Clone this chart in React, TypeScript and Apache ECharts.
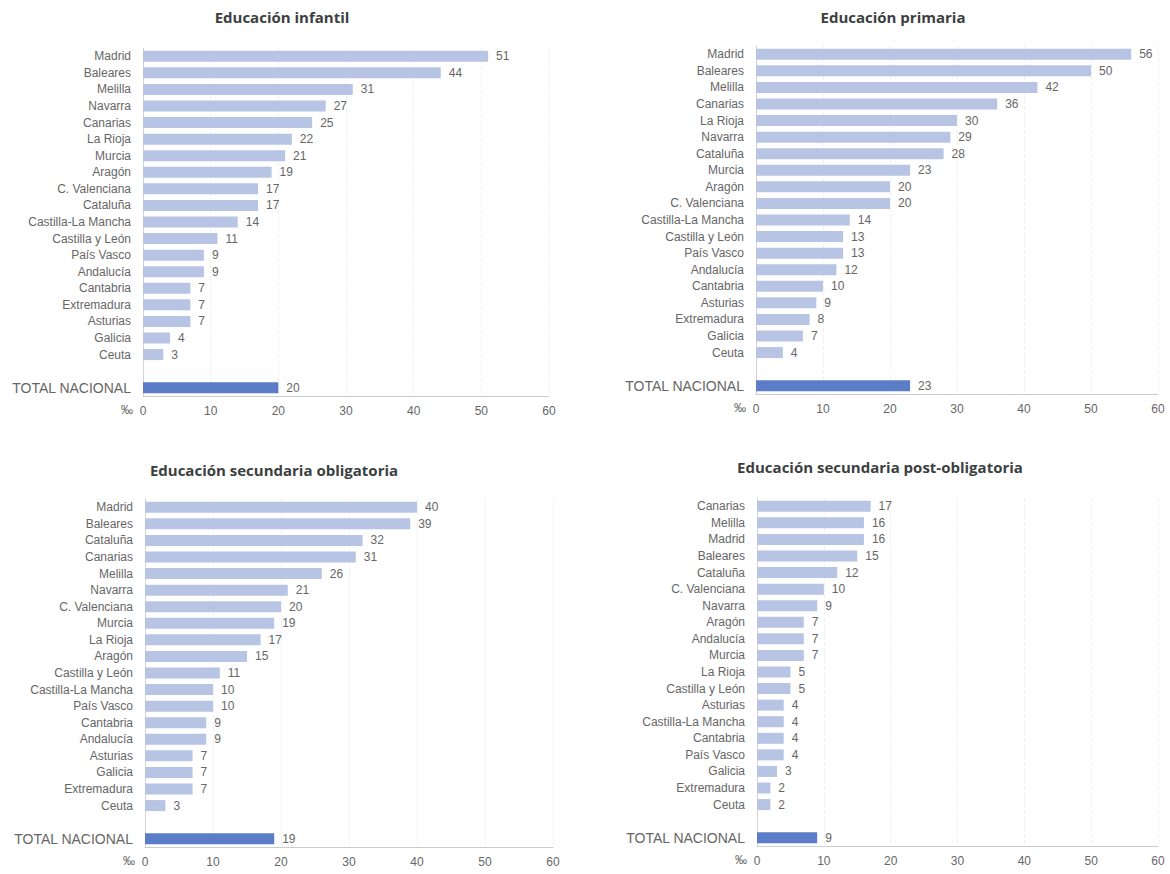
import React, { useEffect, useRef } from "react";
import * as echarts from "echarts";

const titles = [
  "Educación infantil",
  "Educación primaria",
  "Educación secundaria obligatoria",
  "Educación secundaria post-obligatoria",
];

const infantilRegions = ["Madrid", "Baleares", "Melilla", "Navarra", "Canarias", "La Rioja", "Murcia", "Aragón", "C. Valenciana", "Cataluña", "Castilla-La Mancha", "Castilla y León", "País Vasco", "Andalucía", "Cantabria", "Extremadura", "Asturias", "Galicia", "Ceuta"];
const infantilValues = [51, 44, 31, 27, 25, 22, 21, 19, 17, 17, 14, 11, 9, 9, 7, 7, 7, 4, 3];
const infantilTotal = 20;

const primariaRegions = ["Madrid", "Baleares", "Melilla", "Canarias", "La Rioja", "Navarra", "Cataluña", "Murcia", "Aragón", "C. Valenciana", "Castilla-La Mancha", "Castilla y León", "País Vasco", "Andalucía", "Cantabria", "Asturias", "Extremadura", "Galicia", "Ceuta"];
const primariaValues = [56, 50, 42, 36, 30, 29, 28, 23, 20, 20, 14, 13, 13, 12, 10, 9, 8, 7, 4];
const primariaTotal = 23;

const obligatoriaRegions = ["Madrid", "Baleares", "Cataluña", "Canarias", "Melilla", "Navarra", "C. Valenciana", "Murcia", "La Rioja", "Aragón", "Castilla y León", "Castilla-La Mancha", "País Vasco", "Cantabria", "Andalucía", "Asturias", "Galicia", "Extremadura", "Ceuta"];
const obligatoriaValues = [40, 39, 32, 31, 26, 21, 20, 19, 17, 15, 11, 10, 10, 9, 9, 7, 7, 7, 3];
const obligatoriaTotal = 19;

const postRegions = ["Canarias", "Melilla", "Madrid", "Baleares", "Cataluña", "C. Valenciana", "Navarra", "Aragón", "Andalucía", "Murcia", "La Rioja", "Castilla y León", "Asturias", "Castilla-La Mancha", "Cantabria", "País Vasco", "Galicia", "Extremadura", "Ceuta"];
const postValues = [17, 16, 16, 15, 12, 10, 9, 7, 7, 7, 5, 5, 4, 4, 4, 4, 3, 2, 2];
const postTotal = 9;

const totalLabel = "TOTAL NACIONAL";
const xTicks = [0, 10, 20, 30, 40, 50, 60];
const unit = "‰";

const panels = [
  { regions: infantilRegions, values: infantilValues, total: infantilTotal },
  { regions: primariaRegions, values: primariaValues, total: primariaTotal },
  { regions: obligatoriaRegions, values: obligatoriaValues, total: obligatoriaTotal },
  { regions: postRegions, values: postValues, total: postTotal },
];

const gridPos = [
  { left: 143, top: 48, width: 406, height: 348 },
  { left: 756, top: 46, width: 402, height: 348 },
  { left: 145, top: 499, width: 408, height: 348 },
  { left: 757, top: 498, width: 401, height: 348 },
];
const titlePos = [
  { x: 282, y: 17 },
  { x: 893, y: 17 },
  { x: 274, y: 470 },
  { x: 880, y: 467 },
];

const LIGHT = "#b7c4e4";
const DARK = "#5b7cc6";
const TEXT = "#666666";
const FONT = "'Liberation Sans', Arial, sans-serif";

export default function App() {
  const ref = useRef<HTMLDivElement>(null);
  useEffect(() => {
    if (!ref.current) return;
    const chart = echarts.init(ref.current, null, { renderer: "svg" });
    const grids = gridPos.map((g) => ({ ...g, containLabel: false }));
    const xAxes = panels.map((_, i) => ({
      type: "value",
      gridIndex: i,
      min: xTicks[0],
      max: xTicks[xTicks.length - 1],
      interval: 10,
      name: unit,
      nameLocation: "start",
      nameGap: 10,
      nameTextStyle: {
        color: TEXT,
        fontSize: 12,
        fontFamily: FONT,
        verticalAlign: "top",
        padding: [8, 0, 0, 0],
      },
      axisLine: { show: true, lineStyle: { color: "#cccccc", width: 1 } },
      axisTick: { show: false },
      axisLabel: { color: TEXT, fontSize: 12, fontFamily: FONT, margin: 9 },
      splitLine: { show: true, lineStyle: { color: "#f0f0f0", type: "dashed", width: 1 } },
    }));
    const yAxes = panels.map((p, i) => ({
      type: "category",
      gridIndex: i,
      inverse: true,
      data: [...p.regions, "", totalLabel],
      axisLine: { show: true, lineStyle: { color: "#d4d4d4", width: 1 } },
      axisTick: { show: false },
      axisLabel: {
        color: TEXT,
        fontSize: 12,
        fontFamily: FONT,
        margin: 12,
        interval: 0,
        formatter: (v: string) => (v === totalLabel ? `{t|${v}}` : v),
        rich: { t: { fontSize: 14, color: TEXT, fontFamily: FONT } },
      },
      splitLine: { show: false },
    }));
    const series = panels.map((p, i) => ({
      type: "bar",
      xAxisIndex: i,
      yAxisIndex: i,
      barWidth: 11,
      data: [
        ...p.values.map((v) => ({ value: v, itemStyle: { color: LIGHT } })),
        { value: null },
        { value: p.total, itemStyle: { color: DARK } },
      ],
      label: {
        show: true,
        position: "right",
        distance: 8,
        color: TEXT,
        fontSize: 12,
        fontFamily: FONT,
      },
    }));
    const graphic = titles.map((t, i) => ({
      type: "text",
      x: titlePos[i].x,
      y: titlePos[i].y,
      style: {
        text: t,
        fill: "#3c3f3f",
        font: "bold 15px 'Open Sans', sans-serif",
        textAlign: "center",
        textVerticalAlign: "middle",
      },
    }));
    chart.setOption({
      animation: false,
      backgroundColor: "#ffffff",
      grid: grids,
      xAxis: xAxes,
      yAxis: yAxes,
      series,
      graphic,
    });
    return () => chart.dispose();
  }, []);
  return (
    <div
      ref={ref}
      style={{ position: "absolute", left: 0, top: 0, width: 1170, height: 874 }}
    />
  );
}
